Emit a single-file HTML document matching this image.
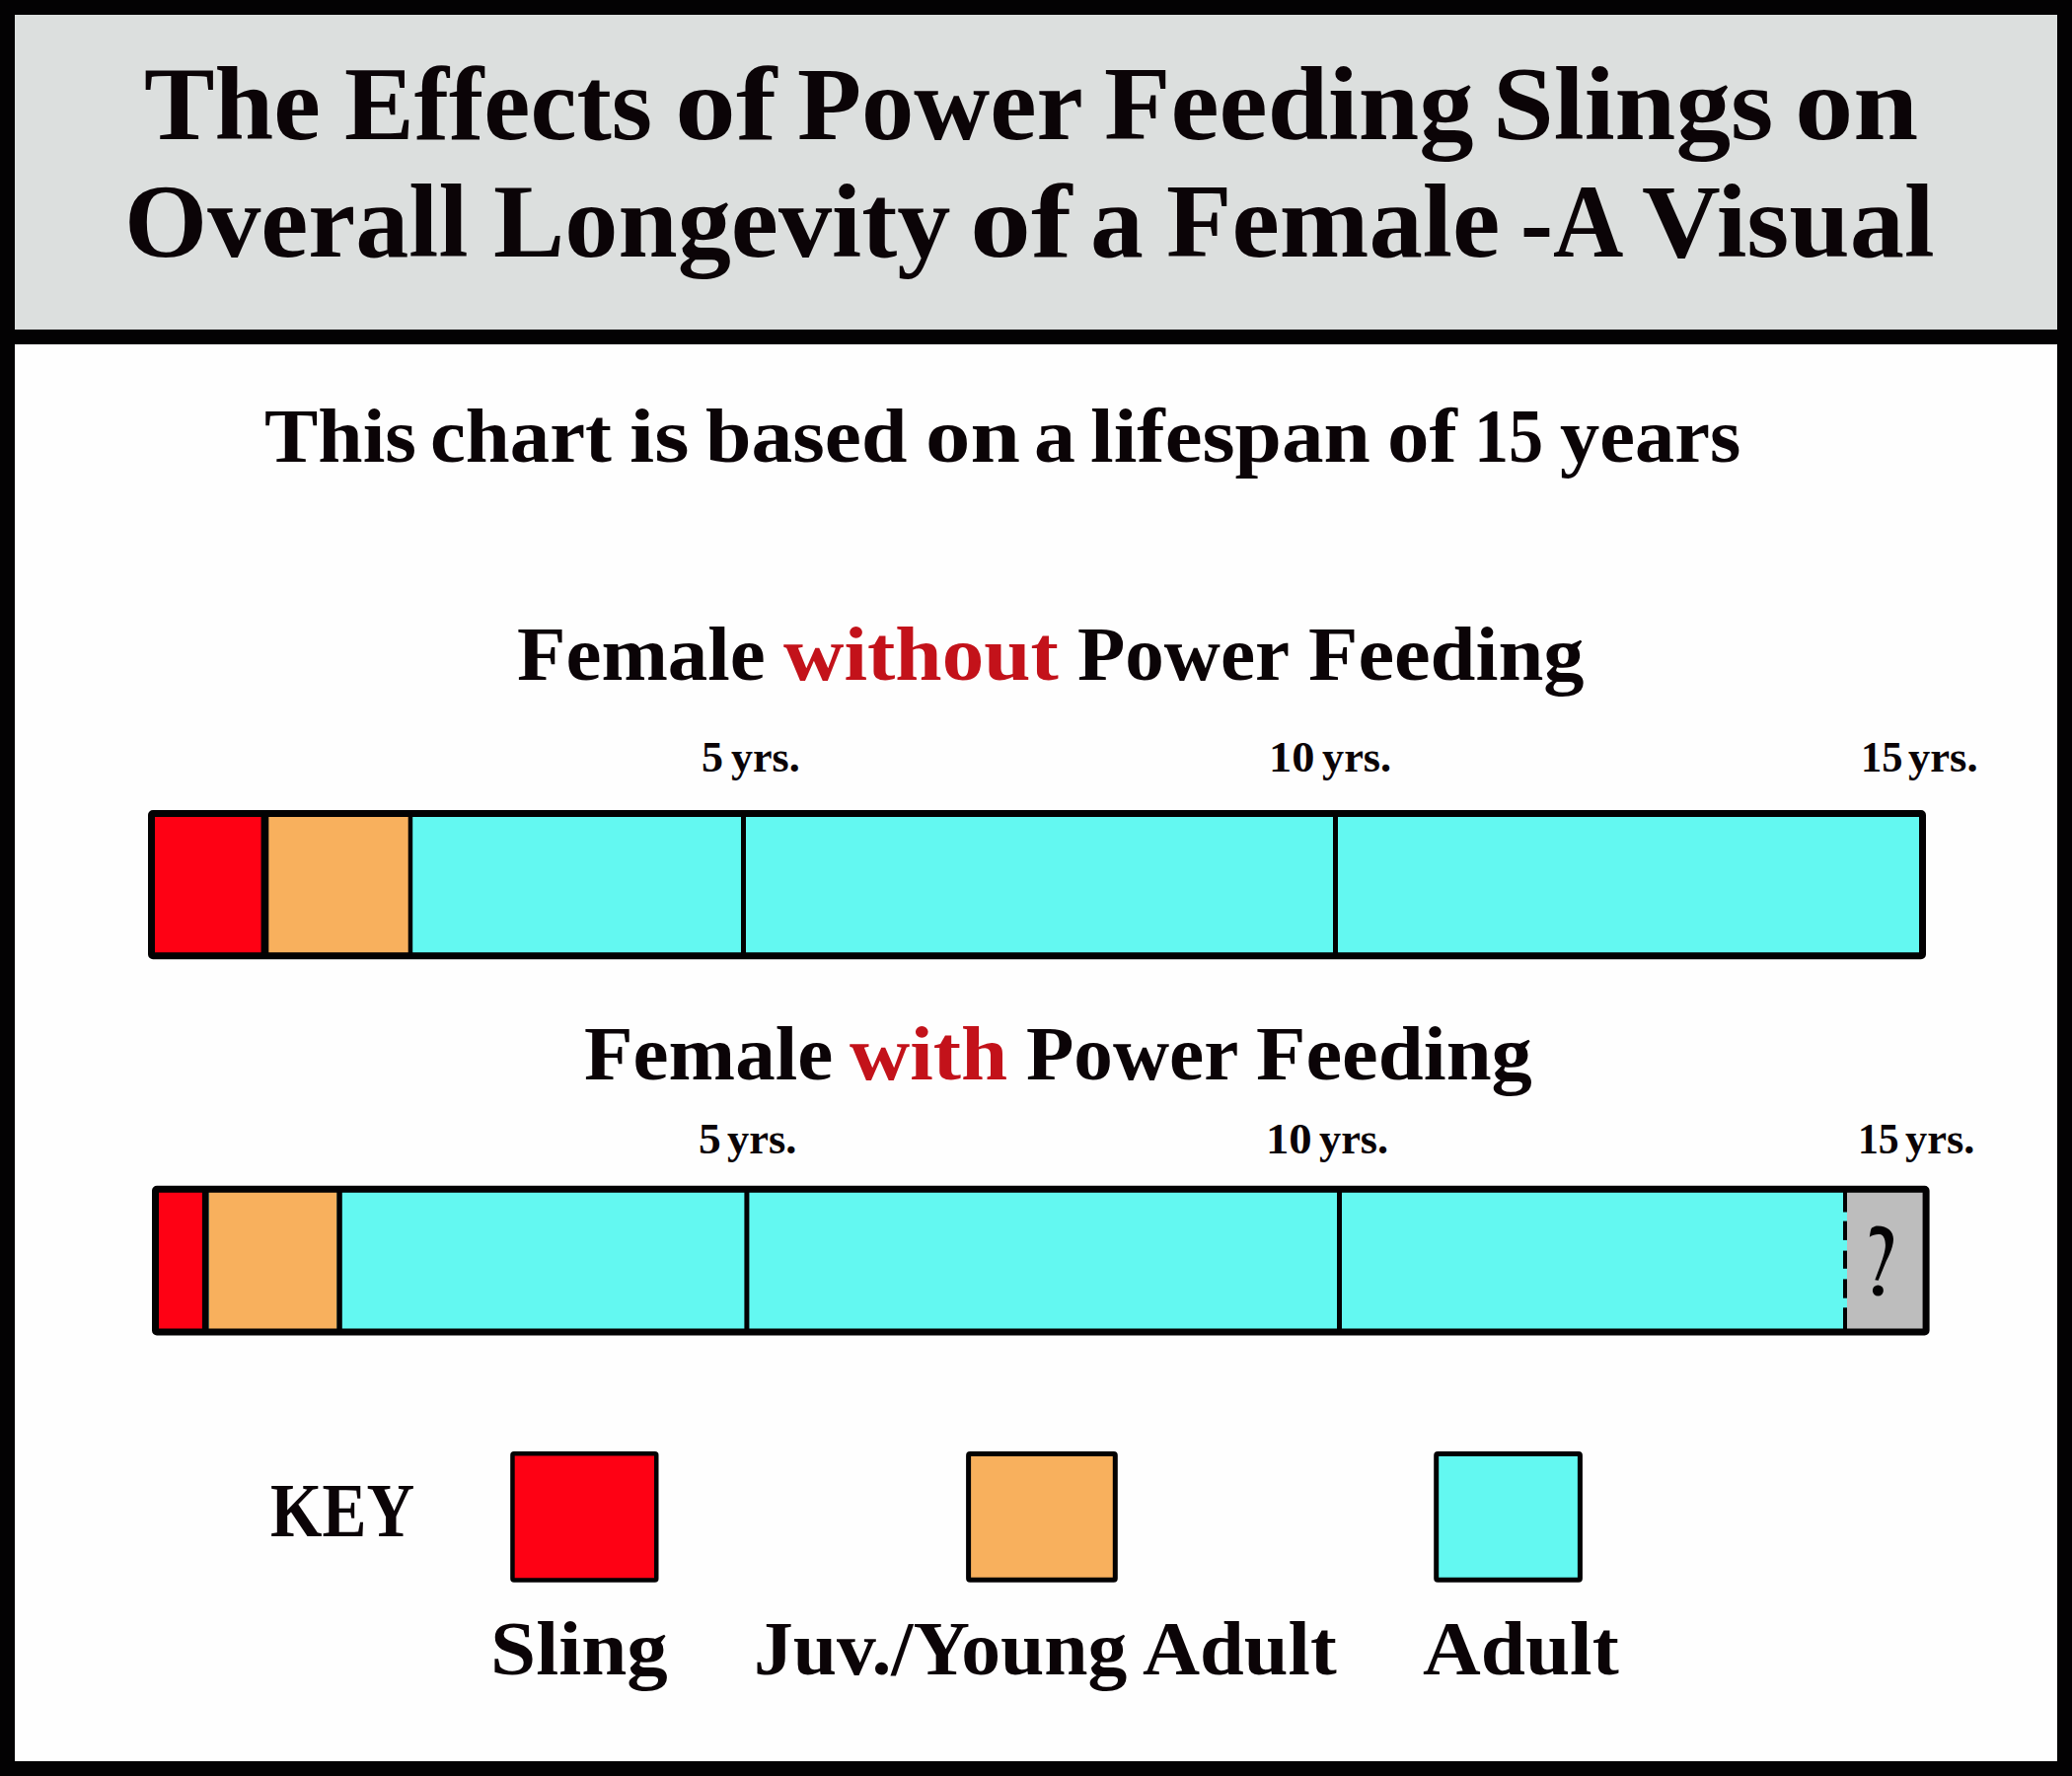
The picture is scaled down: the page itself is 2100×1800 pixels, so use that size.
<!DOCTYPE html>
<html><head><meta charset="utf-8"><title>Power Feeding Slings Chart</title>
<style>
html,body{margin:0;padding:0;}
body{width:2100px;height:1800px;position:relative;overflow:hidden;background:#030203;font-family:"Liberation Serif",serif;font-weight:bold;color:#0b0407;}
#hdr{position:absolute;left:15px;top:15px;width:2070px;height:319px;background:#dcdfde;}
#main{position:absolute;left:15px;top:349px;width:2070px;height:1436px;background:#fefefe;}
.t{position:absolute;white-space:nowrap;line-height:1;transform-origin:0 0;}
.r{color:#c3121a;}
svg{position:absolute;left:0;top:0;}
</style></head><body>
<div id="hdr"></div>
<div id="main"></div>
<div class="t" style="left:145.5px;top:53.1px;font-size:105px;transform:scaleX(1.0218);">The</div>
<div class="t" style="left:349.0px;top:53.1px;font-size:105px;transform:scaleX(1.0098);">Effects</div>
<div class="t" style="left:683.8px;top:53.1px;font-size:105px;transform:scaleX(1.1786);">of</div>
<div class="t" style="left:808.0px;top:53.1px;font-size:105px;transform:scaleX(1.0142);">Power</div>
<div class="t" style="left:1118.9px;top:53.1px;font-size:105px;transform:scaleX(1.0527);">Feeding</div>
<div class="t" style="left:1512.6px;top:53.1px;font-size:105px;transform:scaleX(1.0585);">Slings</div>
<div class="t" style="left:1818.5px;top:53.1px;font-size:105px;transform:scaleX(1.1295);">on</div>
<div class="t" style="left:126.3px;top:171.7px;font-size:105px;transform:scaleX(1.0302);">Overall</div>
<div class="t" style="left:499.6px;top:171.7px;font-size:105px;transform:scaleX(1.0316);">Longevity</div>
<div class="t" style="left:982.9px;top:171.7px;font-size:105px;transform:scaleX(1.1810);">of</div>
<div class="t" style="left:1104.7px;top:171.7px;font-size:105px;transform:scaleX(1.0250);">a</div>
<div class="t" style="left:1181.9px;top:171.7px;font-size:105px;transform:scaleX(1.0363);">Female</div>
<div class="t" style="left:1541.2px;top:171.7px;font-size:105px;transform:scaleX(0.9415);">-A</div>
<div class="t" style="left:1663.9px;top:171.7px;font-size:105px;transform:scaleX(1.0520);">Visual</div>
<div class="t" style="left:267.6px;top:402.9px;font-size:78px;transform:scaleX(1.0444);">This</div>
<div class="t" style="left:436.4px;top:402.9px;font-size:78px;transform:scaleX(1.0356);">chart</div>
<div class="t" style="left:637.9px;top:402.9px;font-size:78px;transform:scaleX(1.1625);">is</div>
<div class="t" style="left:715.3px;top:402.9px;font-size:78px;transform:scaleX(1.0714);">based</div>
<div class="t" style="left:937.7px;top:402.9px;font-size:78px;transform:scaleX(1.1641);">on</div>
<div class="t" style="left:1047.6px;top:402.9px;font-size:78px;transform:scaleX(1.0771);">a</div>
<div class="t" style="left:1105.1px;top:402.9px;font-size:78px;transform:scaleX(1.0914);">lifespan</div>
<div class="t" style="left:1406.3px;top:402.9px;font-size:78px;transform:scaleX(1.0889);">of</div>
<div class="t" style="left:1493.5px;top:402.9px;font-size:78px;transform:scaleX(0.9000);">15</div>
<div class="t" style="left:1580.7px;top:402.9px;font-size:78px;transform:scaleX(1.0326);">years</div>
<div class="t" style="left:523.6px;top:624.2px;font-size:78px;transform:scaleX(1.0379);">Female</div>
<div class="t r" style="left:794.0px;top:624.2px;font-size:78px;transform:scaleX(1.0902);">without</div>
<div class="t" style="left:1092.0px;top:624.2px;font-size:78px;transform:scaleX(1.0134);">Power</div>
<div class="t" style="left:1325.5px;top:624.2px;font-size:78px;transform:scaleX(1.0576);">Feeding</div>
<div class="t" style="left:592.3px;top:1029.0px;font-size:78px;transform:scaleX(1.0404);">Female</div>
<div class="t r" style="left:861.0px;top:1029.0px;font-size:78px;transform:scaleX(1.0870);">with</div>
<div class="t" style="left:1039.9px;top:1029.0px;font-size:78px;transform:scaleX(1.0148);">Power</div>
<div class="t" style="left:1273.2px;top:1029.0px;font-size:78px;transform:scaleX(1.0588);">Feeding</div>
<div class="t" style="left:764.2px;top:1632.4px;font-size:78px;transform:scaleX(1.0204);">Juv./Young</div>
<div class="t" style="left:1158.3px;top:1632.4px;font-size:78px;transform:scaleX(1.0312);">Adult</div>
<div class="t" style="left:710.7px;top:745.0px;font-size:45px;transform:scaleX(0.9789);">5</div>
<div class="t" style="left:740.5px;top:745.0px;font-size:45px;transform:scaleX(0.9783);">yrs.</div>
<div class="t" style="left:1285.7px;top:745.0px;font-size:45px;transform:scaleX(1.0308);">10</div>
<div class="t" style="left:1340.1px;top:745.0px;font-size:45px;transform:scaleX(0.9841);">yrs.</div>
<div class="t" style="left:1886.0px;top:745.0px;font-size:45px;transform:scaleX(0.9436);">15</div>
<div class="t" style="left:1934.0px;top:745.0px;font-size:45px;transform:scaleX(0.9899);">yrs.</div>
<div class="t" style="left:707.8px;top:1131.6px;font-size:45px;transform:scaleX(1.0105);">5</div>
<div class="t" style="left:737.0px;top:1131.6px;font-size:45px;transform:scaleX(0.9870);">yrs.</div>
<div class="t" style="left:1282.6px;top:1131.6px;font-size:45px;transform:scaleX(1.0385);">10</div>
<div class="t" style="left:1337.1px;top:1131.6px;font-size:45px;transform:scaleX(0.9841);">yrs.</div>
<div class="t" style="left:1882.9px;top:1131.6px;font-size:45px;transform:scaleX(0.9256);">15</div>
<div class="t" style="left:1930.8px;top:1131.6px;font-size:45px;transform:scaleX(0.9884);">yrs.</div>
<div class="t" style="left:274.1px;top:1491.6px;font-size:78px;transform:scaleX(0.8647);">KEY</div>
<div class="t" style="left:497.0px;top:1632.4px;font-size:78px;transform:scaleX(1.0634);">Sling</div>
<div class="t" style="left:1441.8px;top:1632.4px;font-size:78px;transform:scaleX(1.0418);">Adult</div>

<svg width="2100" height="1800" viewBox="0 0 2100 1800">
  <!-- bar 1 -->
  <rect x="153" y="824" width="1796" height="145" fill="#63f8f1"/>
  <rect x="153" y="824" width="112" height="145" fill="#fe0114"/>
  <rect x="272" y="824" width="142" height="145" fill="#f8b05d"/>
  <rect x="264.6" y="824" width="7.7" height="145" fill="#030203"/>
  <rect x="413.7" y="824" width="4.5" height="145" fill="#030203"/>
  <rect x="751" y="824" width="5" height="145" fill="#030203"/>
  <rect x="1351" y="824" width="5" height="145" fill="#030203"/>
  <rect x="153.5" y="824.5" width="1795" height="144.3" rx="1.5" fill="none" stroke="#030203" stroke-width="7"/>
  <!-- bar 2 -->
  <rect x="157" y="1205" width="1796" height="145" fill="#63f8f1"/>
  <rect x="157" y="1205" width="48" height="145" fill="#fe0114"/>
  <rect x="211.6" y="1205" width="130" height="145" fill="#f8b05d"/>
  <rect x="1872" y="1205" width="80" height="145" fill="#bdbdbd"/>
  <rect x="204.9" y="1205" width="6.7" height="145" fill="#030203"/>
  <rect x="341.3" y="1205" width="5.5" height="145" fill="#030203"/>
  <rect x="754.4" y="1205" width="5" height="145" fill="#030203"/>
  <rect x="1355" y="1205" width="5" height="145" fill="#030203"/>
  <rect x="1868" y="1203" width="4" height="25.5" fill="#030203"/>
  <rect x="1868" y="1237.6" width="4" height="19.3" fill="#030203"/>
  <rect x="1868" y="1267.6" width="4" height="18.2" fill="#030203"/>
  <rect x="1868" y="1296.4" width="4" height="19.3" fill="#030203"/>
  <rect x="1868" y="1325.3" width="4" height="26" fill="#030203"/>
  <rect x="157.5" y="1205.2" width="1794.6" height="144.8" rx="1.5" fill="none" stroke="#030203" stroke-width="7"/>
  <!-- question mark -->
  <path d="M1894.8,1253.7 C1895.5,1249 1896,1246 1897,1244.6 C1899,1243 1901,1242.4 1903.2,1242.4 C1913,1242.4 1919,1248 1919,1256 C1919,1262 1916,1270 1911.8,1278.1 L1903.7,1297.7 L1900.3,1297.2 L1905.6,1282.9 C1908.5,1275 1911,1267 1910.9,1261.8 C1910.9,1256 1909,1251.5 1905,1251 C1902,1250.6 1898,1251.5 1894.8,1253.7 Z" fill="#030203"/>
  <circle cx="1903.4" cy="1308" r="5.5" fill="#030203"/>
  <!-- key boxes -->
  <rect x="519.45" y="1473.25" width="145.8" height="128.3" rx="1.5" fill="#fe0114" stroke="#030203" stroke-width="4.5"/>
  <rect x="981.6" y="1473.5" width="148.7" height="127.7" rx="1.5" fill="#f8b05d" stroke="#030203" stroke-width="5"/>
  <rect x="1455.7" y="1473.5" width="145.7" height="127.7" rx="1.5" fill="#63f8f1" stroke="#030203" stroke-width="5"/>
</svg>
</body></html>
